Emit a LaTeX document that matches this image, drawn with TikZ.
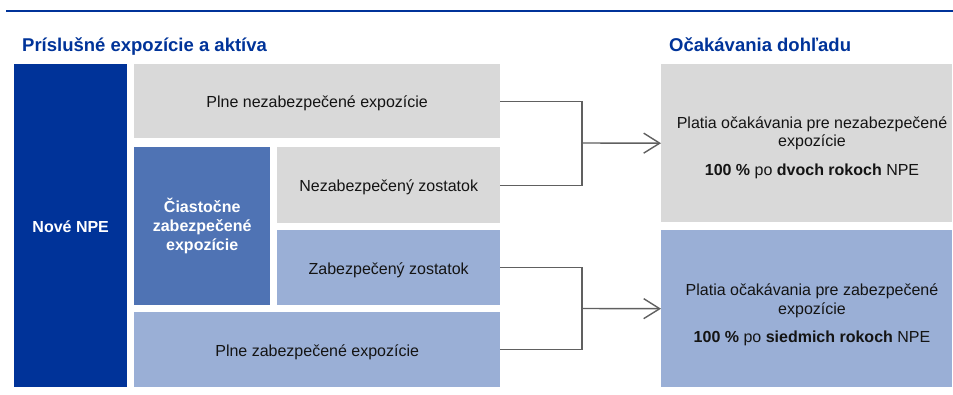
\documentclass[tikz,border=0pt]{standalone}
\usepackage{fontspec}
\setmainfont{Liberation Sans}
\usetikzlibrary{arrows.meta}
\definecolor{dkblue}{HTML}{003399}
\definecolor{mdblue}{HTML}{4F73B4}
\definecolor{ltblue}{HTML}{9AAFD6}
\definecolor{ltgray}{HTML}{D9D9D9}
\definecolor{txt}{HTML}{141414}
\definecolor{conn}{HTML}{606060}
\tikzset{
  box/.style={rectangle, inner sep=0pt, anchor=north west, align=center, text=txt,
    font=\fontsize{16}{18.5}\selectfont},
  one/.style={text height=16pt, text depth=3pt},
  hdr/.style={anchor=base west, inner sep=0pt, text=dkblue, font=\fontsize{18.5}{22}\selectfont\bfseries},
  rtext/.style={inner sep=0pt, align=center, text=txt, font=\fontsize{16}{18.5}\selectfont},
  connline/.style={draw=conn, line width=1.4pt},
  arr/.style={connline, -{Straight Barb[length=16pt,width=20pt,line width=1.4pt]}}
}
\begin{document}
\begin{tikzpicture}[x=1pt,y=-1pt]
\useasboundingbox (0,0) rectangle (953,394);
\coordinate (tl) at (6,11);
\coordinate (tr) at (953,11);
\draw[dkblue, line width=2.3pt] (tl) -- (tr);
\node[hdr] (h1) at (22,51.7) {Príslušné expozície a aktíva};
\node[hdr] (h2) at (669,51.7) {Očakávania dohľadu};
% left boxes
\node[box, one, fill=dkblue, minimum width=113pt, minimum height=323pt, text=white, font=\fontsize{16}{19}\selectfont\bfseries] (npe) at (14,64) {Nové NPE};
\node[box, one, fill=ltgray, minimum width=366pt, minimum height=74pt] (pne) at (134,64) {Plne nezabezpečené expozície};
\node[box, fill=mdblue, minimum width=136pt, minimum height=158pt, text=white, font=\fontsize{16}{19}\selectfont\bfseries] (cze) at (134,147) {Čiastočne\\zabezpečené\\expozície};
\node[box, one, fill=ltgray, minimum width=223pt, minimum height=76pt] (nz) at (277,147) {Nezabezpečený zostatok};
\node[box, one, fill=ltblue, minimum width=223pt, minimum height=75pt] (zz) at (277,230) {Zabezpečený zostatok};
\node[box, one, fill=ltblue, minimum width=366pt, minimum height=75pt] (pze) at (134,312) {Plne zabezpečené expozície};
% right boxes
\node[box, fill=ltgray, minimum width=291pt, minimum height=158pt] (rt) at (661,64) {};
\node[box, fill=ltblue, minimum width=291pt, minimum height=157pt] (rb) at (661,230) {};
\node[rtext] (rtt) at (812,147.5) {Platia očakávania pre nezabezpečené\\expozície\\[10pt]\textbf{100 \%} po \textbf{dvoch rokoch} NPE};
\node[rtext] (rbt) at (812,315) {Platia očakávania pre zabezpečené\\expozície\\[10pt]\textbf{100 \%} po \textbf{siedmich rokoch} NPE};
% connectors
\coordinate (j1) at (582,143);
\coordinate (j2) at (582,308.5);
\draw[connline] (pne.east) -| (j1) |- (nz.east);
\draw[arr] (j1) -- (rt.west);
\draw[connline] (zz.east) -| (j2) |- (pze.east);
\draw[arr] (j2) -- (rb.west);
\end{tikzpicture}
\end{document}
